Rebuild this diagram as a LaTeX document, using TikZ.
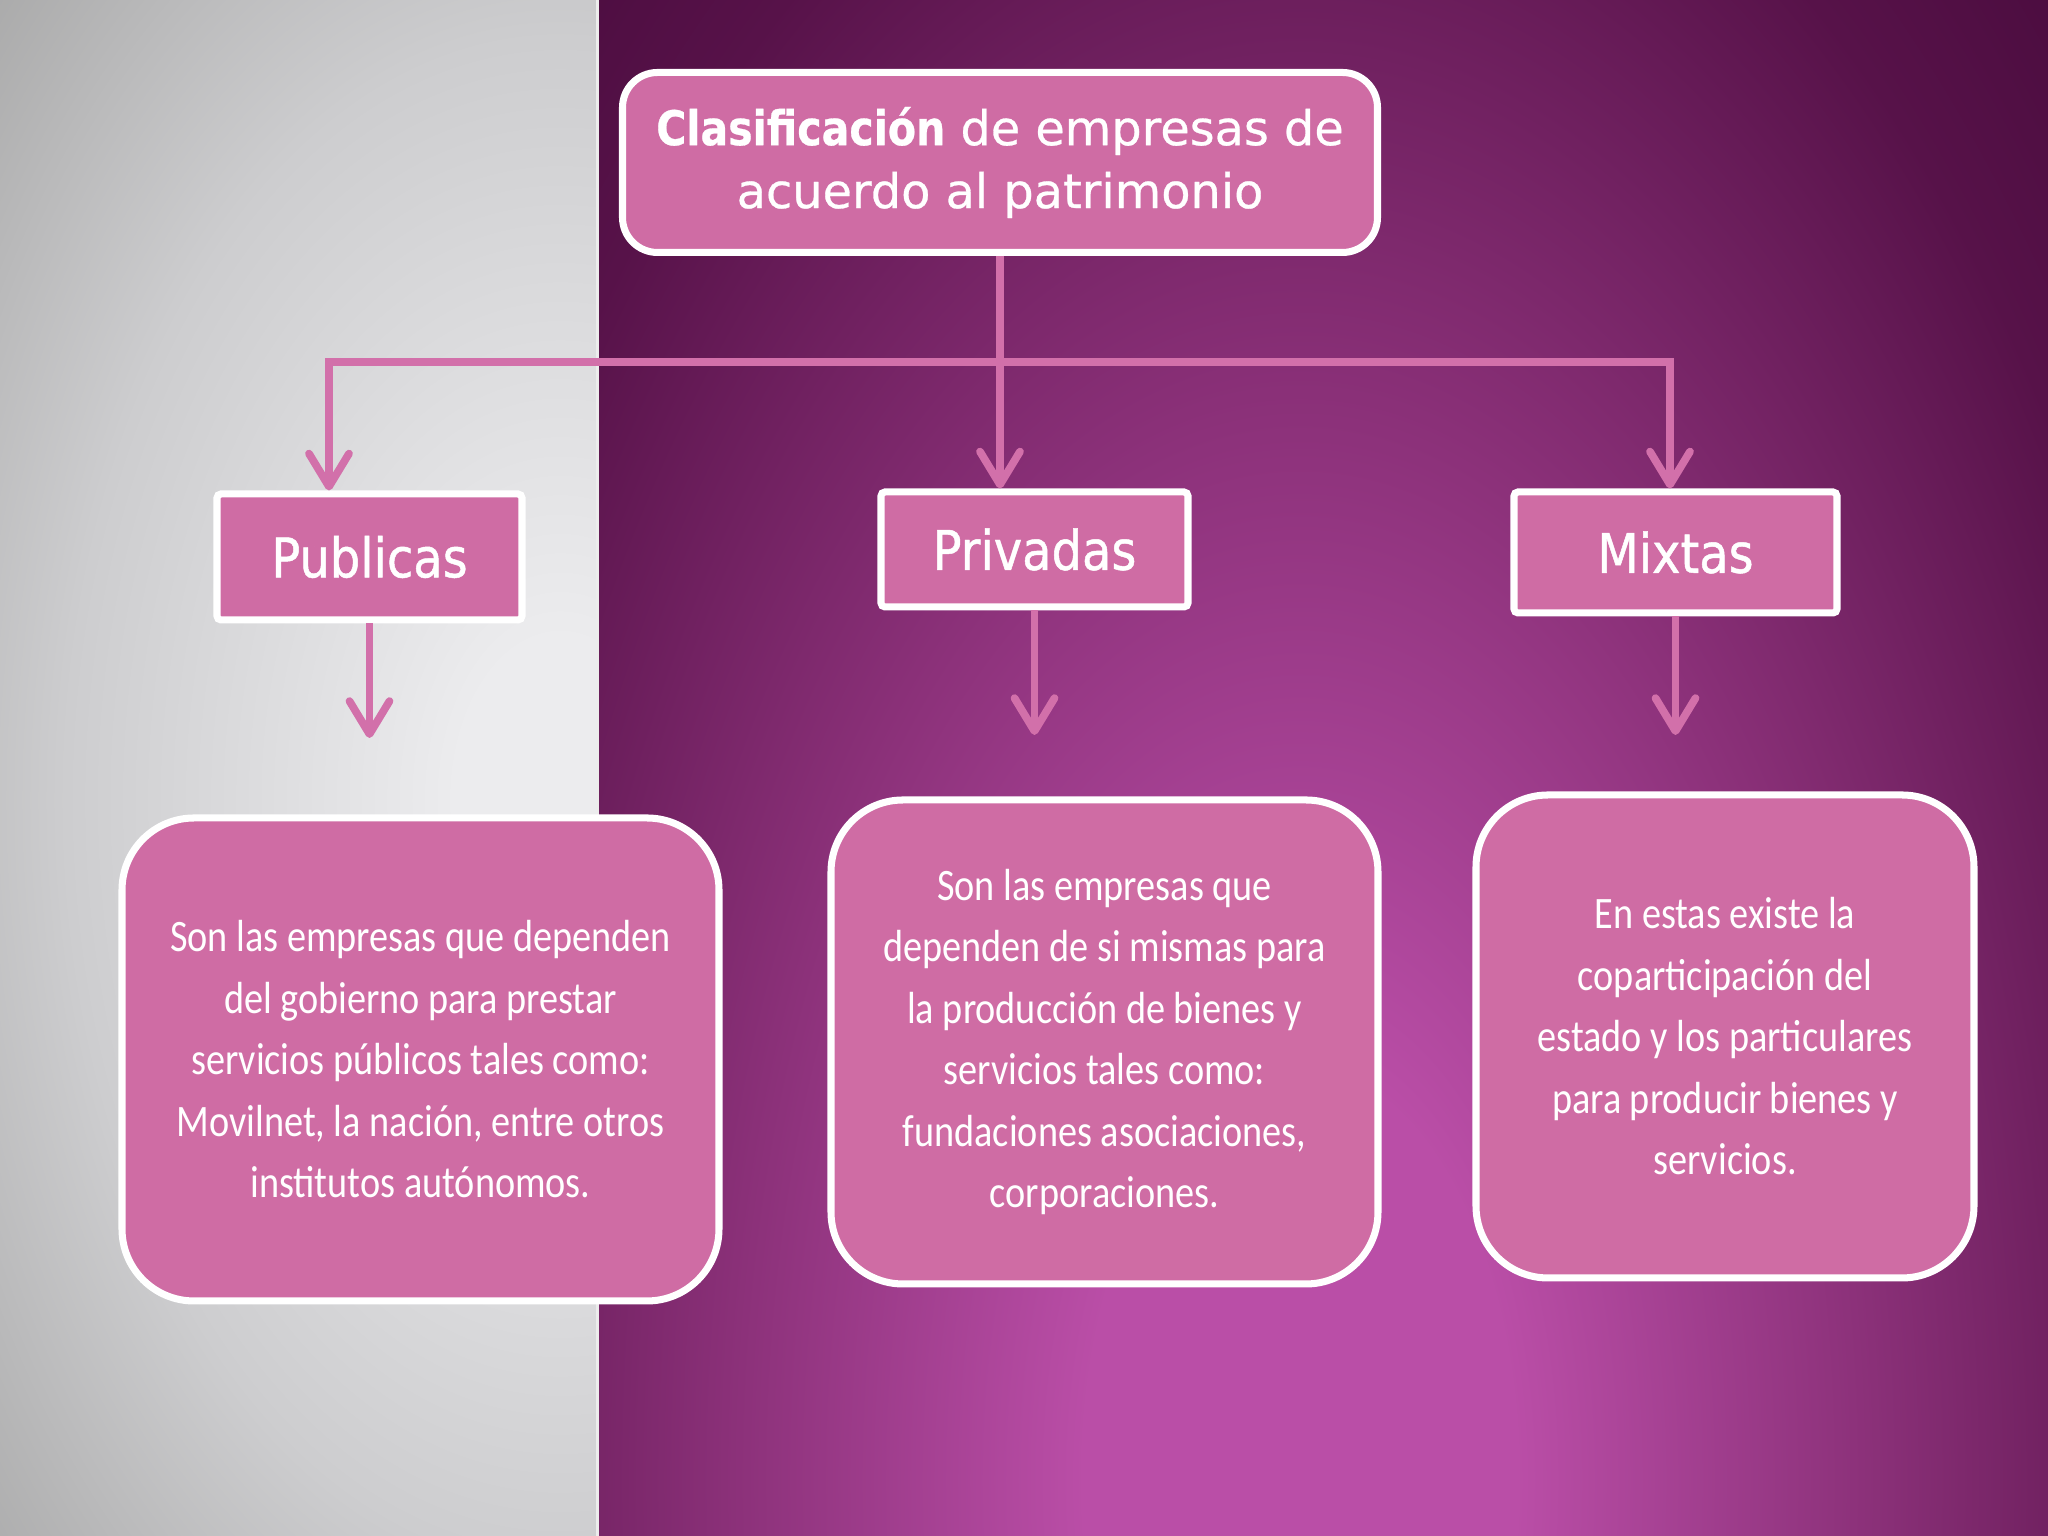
\documentclass[tikz,border=0pt]{standalone}
\usepackage{fontspec}
\setmainfont{Carlito}
\newfontfamily\headFont{DejaVu Sans}[FakeBold=0.6, BoldFeatures={FakeStretch=0.86}]
\newfontfamily\labelFont{DejaVu Sans}[FakeStretch=0.88, FakeBold=0.9]
\newfontfamily\descFont{Carlito}[FakeStretch=0.85]
\usetikzlibrary{arrows.meta}

% Background shadings
\definecolor{greyCore}{HTML}{ECECEE}
\definecolor{greyMid}{HTML}{CDCDCF}
\definecolor{greyEdge}{HTML}{A6A6A6}
\pgfdeclareradialshading{greyGlow}{\pgfpoint{0bp}{0bp}}{color(0bp)=(greyCore); color(4bp)=(greyCore); color(19bp)=(greyMid); color(31bp)=(greyEdge); color(50bp)=(greyEdge)}

\definecolor{plumCore}{HTML}{BA4EA7}
\definecolor{plumMid}{HTML}{8A3078}
\definecolor{plumDeep}{HTML}{571249}
\definecolor{plumEdge}{HTML}{45093A}
\pgfdeclareradialshading{plumGlow}{\pgfpoint{0bp}{0bp}}{color(0bp)=(plumCore); color(6bp)=(plumCore); color(16bp)=(plumMid); color(26bp)=(plumDeep); color(33bp)=(plumEdge); color(50bp)=(plumEdge)}

\begin{document}
\begin{tikzpicture}[
    box/.style={draw=white, line width=2pt, fill=boxPink, text=white, align=center, inner sep=0pt},
    titlebox/.style={box, rounded corners=0.35cm, font=\headFont\fontsize{13.6}{17.9}\selectfont},
    labelbox/.style={box, rounded corners=0.04cm, font=\labelFont\fontsize{15.5}{18}\selectfont},
    descbox/.style={box, rounded corners=0.72cm, font=\descFont\fontsize{12.8}{17.5}\selectfont},
    link/.style={draw=linkPink, line width=2.2pt},
    arrow/.style={link, -{Straight Barb[length=3.3mm, width=4mm, round]}}
]
    % Define colours
    \definecolor{boxPink}{HTML}{CF6CA4}
    \definecolor{linkPink}{HTML}{D270AA}

    % Define page size
    \def\pageW{20.48}
    \def\pageH{15.36}
    \def\splitX{5.98}
    \useasboundingbox (0,0) rectangle (\pageW,\pageH);

    % Draw grey panel
    \begin{scope}
        \clip (0,0) rectangle (\splitX,\pageH);
        \shade[shading=greyGlow] (-0.9,-2.64) rectangle (12.1,17.36);
    \end{scope}

    % Draw purple panel
    \begin{scope}
        \clip (\splitX,0) rectangle (\pageW,\pageH);
        \shade[shading=plumGlow] (4.0,-16.44) rectangle (22.0,17.56);
    \end{scope}
    \draw[white!85!gray, line width=0.6pt] (\splitX-0.005,0) -- (\splitX-0.005,\pageH);

    % Title
    \node[titlebox, minimum width=7.55cm, minimum height=1.80cm] (title) at (10.00,13.735)
        {\textbf{Clasificación} de empresas de\\acuerdo al patrimonio};

    % Kinds of company
    \node[labelbox, minimum width=3.05cm, minimum height=1.26cm] (pub) at (3.695,9.79) {Publicas};
    \node[labelbox, minimum width=3.07cm, minimum height=1.15cm] (pri) at (10.345,9.865) {Privadas};
    \node[labelbox, minimum width=3.23cm, minimum height=1.21cm] (mix) at (16.755,9.835) {Mixtas};

    % Descriptions
    \node[descbox, minimum width=5.97cm, minimum height=4.83cm] (pubText) at (4.205,4.765)
        {Son las empresas que dependen\\del gobierno para prestar\\servicios públicos tales como:\\Movilnet, la nación, entre otros\\institutos autónomos.};
    \node[descbox, minimum width=5.47cm, minimum height=4.84cm] (priText) at (11.045,4.94)
        {Son las empresas que\\dependen de si mismas para\\la producción de bienes y\\servicios tales como:\\fundaciones asociaciones,\\corporaciones.};
    \node[descbox, minimum width=4.98cm, minimum height=4.83cm] (mixText) at (17.25,4.995)
        {En estas existe la\\coparticipación del\\estado y los particulares\\para producir bienes y\\servicios.};

    % Connectors from the title
    \coordinate (busL) at (3.29,11.74);
    \coordinate (busR) at (16.70,11.74);
    \draw[arrow] (busR) -- (busL) -- (busL |- pub.north);
    \draw[arrow] (busL) -- (busR) -- (busR |- mix.north);
    \draw[arrow] (title.south) -- (title.south |- pri.north);

    % Arrows below each kind
    \coordinate (pubEnd) at (3.695,7.98);
    \coordinate (priEnd) at (10.345,8.01);
    \coordinate (mixEnd) at (16.755,8.01);
    \draw[arrow] (pub.south) -- (pubEnd);
    \draw[arrow] (pri.south) -- (priEnd);
    \draw[arrow] (mix.south) -- (mixEnd);

\end{tikzpicture}
\end{document}
